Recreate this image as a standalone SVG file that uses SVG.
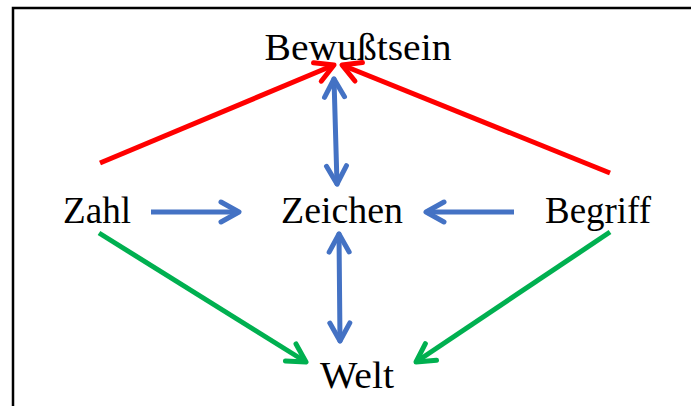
<svg xmlns="http://www.w3.org/2000/svg" width="691" height="406" viewBox="0 0 691 406">
<style>
.lbl{font-family:"Liberation Serif","Times New Roman",serif;font-size:38px;fill:#000;text-anchor:middle}
.c{fill:none;stroke-width:5;stroke-linecap:round;stroke-linejoin:round}
.r{stroke:#FF0000}.b{stroke:#4472C4}.g{stroke:#00B050}
</style>
<defs>
<marker id="ar" markerUnits="userSpaceOnUse" viewBox="-25 -15 30 30" markerWidth="30" markerHeight="30" refX="0" refY="0" orient="auto-start-reverse"><path d="M-18,-10 L0,0 L-18,10" fill="none" stroke="#FF0000" stroke-width="5" stroke-linecap="round" stroke-linejoin="round"/></marker>
<marker id="ab" markerUnits="userSpaceOnUse" viewBox="-25 -15 30 30" markerWidth="30" markerHeight="30" refX="0" refY="0" orient="auto-start-reverse"><path d="M-18,-10 L0,0 L-18,10" fill="none" stroke="#4472C4" stroke-width="5" stroke-linecap="round" stroke-linejoin="round"/></marker>
<marker id="ag" markerUnits="userSpaceOnUse" viewBox="-25 -15 30 30" markerWidth="30" markerHeight="30" refX="0" refY="0" orient="auto-start-reverse"><path d="M-18,-10 L0,0 L-18,10" fill="none" stroke="#00B050" stroke-width="5" stroke-linecap="round" stroke-linejoin="round"/></marker>
</defs>
<rect x="0" y="0" width="691" height="406" fill="#fff"/>
<rect x="13" y="8" width="700" height="420" fill="none" stroke="#000" stroke-width="2.5"/>
<g id="connectors">
<line class="c r" x1="100" y1="163" x2="334" y2="65" marker-end="url(#ar)" style="stroke-linecap:butt"/>
<line class="c r" x1="610" y1="173" x2="342" y2="65" marker-end="url(#ar)" style="stroke-linecap:butt"/>
<line class="c b" x1="334" y1="79" x2="337" y2="184" marker-start="url(#ab)" marker-end="url(#ab)"/>
<line class="c b" x1="339" y1="234" x2="340" y2="341" marker-start="url(#ab)" marker-end="url(#ab)"/>
<line class="c b" x1="151" y1="212" x2="239" y2="212" marker-end="url(#ab)" style="stroke-linecap:butt"/>
<line class="c b" x1="514" y1="212" x2="426" y2="212" marker-end="url(#ab)" style="stroke-linecap:butt"/>
<line class="c g" x1="99" y1="233" x2="306" y2="362" marker-end="url(#ag)" style="stroke-linecap:butt"/>
<line class="c g" x1="610" y1="232" x2="416" y2="362" marker-end="url(#ag)" style="stroke-linecap:butt"/>
</g>
<g id="bewusstsein"><text class="lbl" x="358" y="60" textLength="187" lengthAdjust="spacingAndGlyphs">Bewußtsein</text></g>
<g id="zahl"><text class="lbl" x="97" y="223" textLength="68" lengthAdjust="spacingAndGlyphs">Zahl</text></g>
<g id="zeichen"><text class="lbl" x="342" y="223" textLength="122" lengthAdjust="spacingAndGlyphs">Zeichen</text></g>
<g id="begriff"><text class="lbl" x="598" y="223" textLength="106" lengthAdjust="spacingAndGlyphs">Begriff</text></g>
<g id="welt"><text class="lbl" x="357" y="388" textLength="74" lengthAdjust="spacingAndGlyphs">Welt</text></g>
</svg>
